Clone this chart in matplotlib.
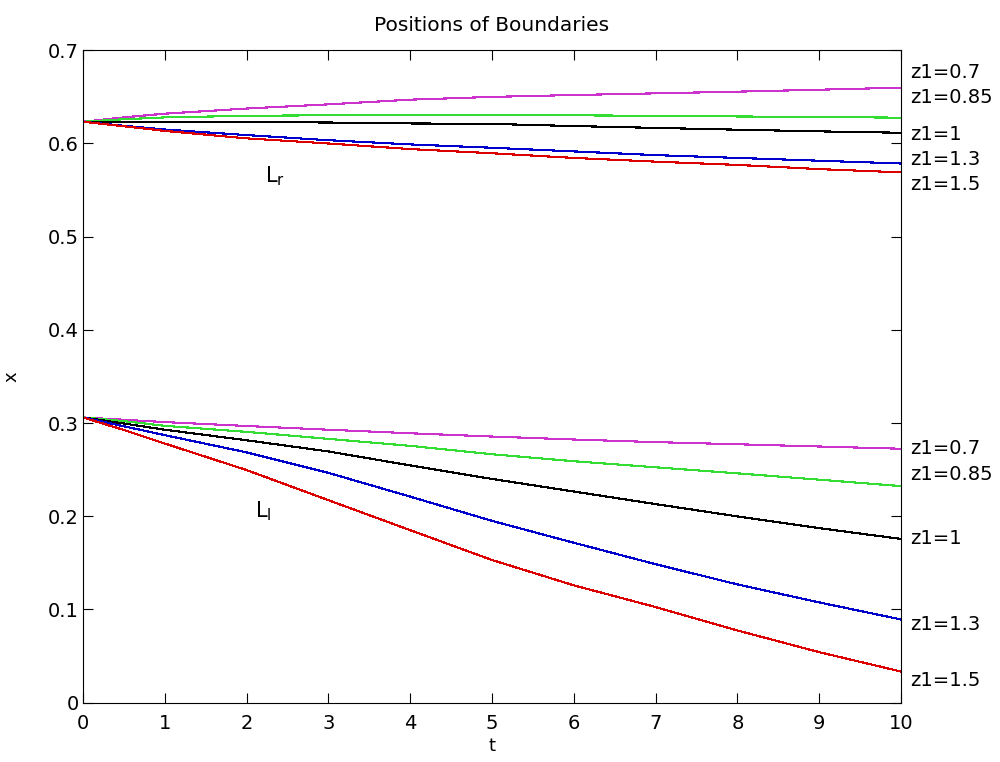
import numpy as np
import matplotlib
matplotlib.use("Agg")
import matplotlib.pyplot as plt

# time grid and boundary positions
t = [0, 0.5, 1, 2, 3, 4, 5, 6, 7, 8, 9, 10]
z1 = ["0.7", "0.85", "1", "1.3", "1.5"]
colors = ["#cc33cc", "#33dd33", "#000000", "#0000cc", "#dd0000"]

# right boundary L_r
upper = [
    [0.6233, 0.628, 0.632, 0.6375, 0.642, 0.647, 0.650, 0.652, 0.6538, 0.6556, 0.6577, 0.6599],
    [0.6233, 0.626, 0.628, 0.6297, 0.6303, 0.6305, 0.6305, 0.6302, 0.6297, 0.629, 0.6284, 0.6277],
    [0.6233, 0.6235, 0.6235, 0.623, 0.6225, 0.6215, 0.621, 0.6187, 0.6167, 0.6148, 0.613, 0.6115],
    [0.6233, 0.619, 0.615, 0.609, 0.6035, 0.599, 0.5954, 0.5915, 0.5875, 0.5845, 0.5815, 0.5785],
    [0.6233, 0.6185, 0.6135, 0.6055, 0.600, 0.594, 0.5895, 0.5845, 0.5805, 0.577, 0.5725, 0.569],
]
# left boundary L_l
lower = [
    [0.306, 0.3035, 0.301, 0.2968, 0.2928, 0.2890, 0.2855, 0.2823, 0.2795, 0.2772, 0.2748, 0.2724],
    [0.306, 0.302, 0.297, 0.2905, 0.283, 0.2755, 0.2665, 0.2590, 0.2525, 0.2460, 0.2392, 0.2323],
    [0.306, 0.2995, 0.2928, 0.2815, 0.2695, 0.2545, 0.2400, 0.2265, 0.2130, 0.1998, 0.1872, 0.1756],
    [0.306, 0.2965, 0.287, 0.2685, 0.2465, 0.2210, 0.1950, 0.1715, 0.1485, 0.1268, 0.1075, 0.0892],
    [0.306, 0.2925, 0.278, 0.2495, 0.2172, 0.185, 0.153, 0.1258, 0.1025, 0.0774, 0.0541, 0.0333],
]
# y positions of the z1 labels on the right
upper_label_y = [0.676, 0.6495, 0.610, 0.583, 0.556]
lower_label_y = [0.273, 0.245, 0.176, 0.084, 0.024]

fig = plt.figure(figsize=(10, 7.62), dpi=100)
ax = fig.add_axes([0.083, 0.078, 0.818, 0.856])

for i in range(len(z1)):
    ax.plot(t, upper[i], color=colors[i], lw=0.8, antialiased=False)
    ax.plot(t, lower[i], color=colors[i], lw=0.8, antialiased=False)
    ax.text(10.11, upper_label_y[i], "z1=" + z1[i], fontsize=14, va="center", clip_on=False)
    ax.text(10.11, lower_label_y[i], "z1=" + z1[i], fontsize=14, va="center", clip_on=False)

ax.text(2.22, 0.565, r"L$_\mathregular{r}$", fontsize=15, va="center")
ax.text(2.1, 0.205, r"L$_\mathregular{l}$", fontsize=15, va="center")

ax.set_xlim(0, 10)
ax.set_ylim(0, 0.7)
ax.set_xticks(np.arange(0, 11, 1))
ax.set_yticks(np.arange(0, 0.71, 0.1))
ax.set_yticklabels(["0", "0.1", "0.2", "0.3", "0.4", "0.5", "0.6", "0.7"])
ax.tick_params(direction="in", length=7, top=True, right=True, labelsize=14, pad=3)
ax.tick_params(axis="x", pad=8)
ax.set_xlabel("t", fontsize=13, labelpad=3)
ax.set_ylabel("x", fontsize=13, labelpad=20)
ax.set_title("Positions of Boundaries", fontsize=14.5, pad=14)

fig.savefig("out.png", dpi=100)
